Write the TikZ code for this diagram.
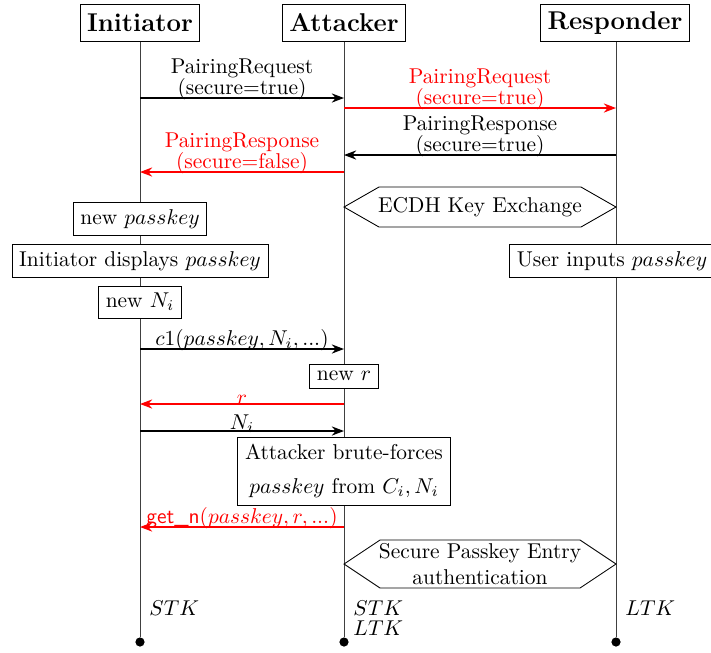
\documentclass[tikz,border=0pt]{standalone}
\usepackage{amsmath}
\usepackage{xcolor}
\usepackage{tikz}
\usetikzlibrary{arrows.meta}
\tikzstyle{Actor}=[draw,fill=white,font=\large\bfseries,inner xsep=3.2pt,
minimum height=0.607cm]
\tikzstyle{Life}=[draw=black!75]
\tikzstyle{Dot}=[circle,fill=black,inner sep=0pt,minimum size=4.3pt]
\tikzstyle{Msg}=[draw,semithick,-{Stealth}]
\tikzstyle{MsgAtk}=[Msg,red]
\tikzstyle{Lbl}=[above,inner sep=0pt,yshift=-1pt,align=center]
\tikzstyle{Box}=[draw,fill=white,align=center]
\tikzstyle{Hex}=[draw,line join=miter]
\tikzstyle{HexText}=[inner sep=0pt,align=center]
\tikzstyle{Key}=[anchor=west,inner sep=0pt]

\begin{document}
\begin{tikzpicture}[x=0.0164cm,y=-0.0164cm]
        \useasboundingbox(0,0)rectangle(711,652);
        \node[Actor](I)at(140,23){Initiator};
        \node[Actor](A)at(344,23){Attacker};
        \node[Actor](R)at(615,23){Responder};
        \node[Dot](Ie)at(140,642){};
        \node[Dot](Ae)at(344,642){};
        \node[Dot](Re)at(616,642){};
        \draw[Life](I)--(Ie);
        \draw[Life](A)--(Ae);
        \draw[Life](R.south-|Re)--(Re);
        % pairing
        \coordinate(m1i)at(140,98);
        \coordinate(m1a)at(344,98);
        \draw[Msg](m1i)--node[Lbl]{PairingRequest\\[-2.3pt](secure=true)}(m1a);
        \coordinate(m2a)at(344,108);
        \coordinate(m2r)at(616,108);
        \draw[MsgAtk](m2a)--node[Lbl]{PairingRequest\\[-2.3pt](secure=true)}(m2r);
        \coordinate(m3r)at(616,155);
        \coordinate(m3a)at(344,155);
        \draw[Msg](m3r)--node[Lbl]{PairingResponse\\[-2.3pt](secure=true)}(m3a);
        \coordinate(m4a)at(344,172);
        \coordinate(m4i)at(140,172);
        \draw[MsgAtk](m4a)--node[Lbl]{PairingResponse\\[-2.3pt](secure=false)}(m4i);
        \node[HexText](ecdh)at(480,207){ECDH Key Exchange};
        \draw[Hex](344,207)--(379,187)--(581,187)--(616,207)--(581,227)--(379,227)--cycle;
        % passkey
        \node[Box](newpk)at(140,219){new $passkey$};
        \node[Box](disp)at(140,261){Initiator displays $passkey$};
        \node[Box](inp)at(612,261){User inputs $passkey$};
        \node[Box](newni)at(140,302){new $N_i$};
        \coordinate(m5i)at(140,349);
        \coordinate(m5a)at(344,349);
        \draw[Msg](m5i)--node[Lbl]{$c1(passkey,N_i,...)$}(m5a);
        \node[Box](newr)at(344,376){new $r$};
        \coordinate(m6a)at(344,404);
        \coordinate(m6i)at(140,404);
        \draw[MsgAtk](m6a)--node[Lbl,yshift=0.6pt]{$r$}(m6i);
        \coordinate(m7i)at(140,431);
        \coordinate(m7a)at(344,431);
        \draw[Msg](m7i)--node[Lbl]{$N_i$}(m7a);
        \node[Box](brute)at(344,471){Attacker brute-forces\\[4pt]$passkey$ from $C_i,N_i$};
        \coordinate(m8a)at(344,527);
        \coordinate(m8i)at(140,527);
        \draw[MsgAtk](m8a)--node[Lbl]{\textsf{get\_n}$(passkey,r,...)$}(m8i);
        \node[HexText](spe)at(480,564){Secure Passkey Entry\\authentication};
        \draw[Hex](344,564)--(380,540)--(580,540)--(616,564)--(580,588)--(380,588)--cycle;
        % keys
        \node[Key](kI)at(149,608){$STK$};
        \node[Key](kA1)at(353,608){$STK$};
        \node[Key](kA2)at(353,628){$LTK$};
        \node[Key](kR)at(625,608){$LTK$};
    \end{tikzpicture}
\end{document}
